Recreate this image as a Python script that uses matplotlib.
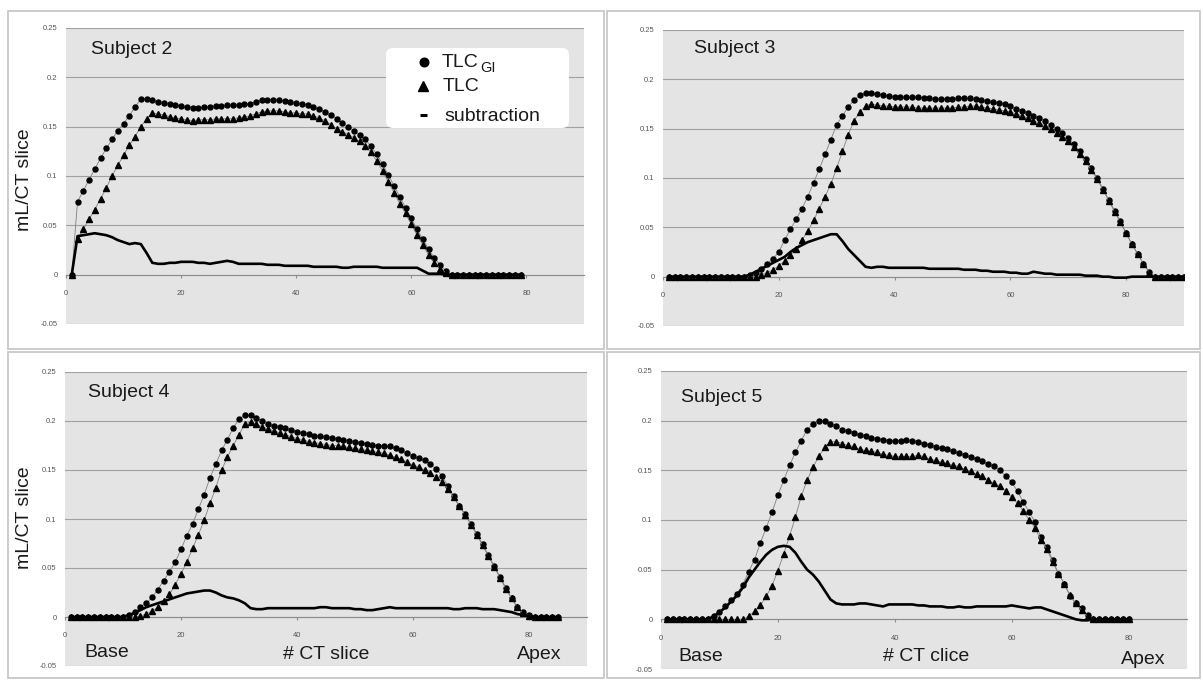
import matplotlib
matplotlib.use("Agg")
import matplotlib.pyplot as plt
from matplotlib.patches import Rectangle, FancyBboxPatch
from matplotlib.lines import Line2D
from matplotlib.transforms import Affine2D
import numpy as np

plt.rcParams['font.family'] = ['Liberation Sans', 'DejaVu Sans']

# mL per CT slice, one value per slice (slice 1..N)
s2_tlc_gi = [0.000, 0.074, 0.085, 0.096, 0.107, 0.118, 0.128, 0.137, 0.146, 0.153,
             0.161, 0.170, 0.178, 0.178, 0.177, 0.175, 0.174, 0.173, 0.172, 0.171,
             0.170, 0.169, 0.169, 0.170, 0.170, 0.171, 0.171, 0.172, 0.172, 0.172,
             0.173, 0.173, 0.175, 0.177, 0.177, 0.177, 0.177, 0.176, 0.175, 0.174,
             0.173, 0.172, 0.170, 0.168, 0.165, 0.162, 0.158, 0.154, 0.150, 0.146,
             0.142, 0.137, 0.130, 0.122, 0.112, 0.101, 0.090, 0.079, 0.068, 0.057,
             0.046, 0.036, 0.026, 0.017, 0.010, 0.004, 0.000, 0.000, 0.000, 0.000,
             0.000, 0.000, 0.000, 0.000, 0.000, 0.000, 0.000, 0.000, 0.000]
s2_tlc = [0.000, 0.036, 0.046, 0.056, 0.066, 0.077, 0.088, 0.100, 0.111, 0.121,
          0.131, 0.140, 0.150, 0.158, 0.164, 0.163, 0.162, 0.160, 0.159, 0.158,
          0.157, 0.156, 0.157, 0.157, 0.157, 0.158, 0.158, 0.158, 0.158, 0.159,
          0.160, 0.161, 0.163, 0.165, 0.166, 0.166, 0.166, 0.165, 0.164, 0.164,
          0.163, 0.163, 0.161, 0.159, 0.156, 0.152, 0.148, 0.145, 0.142, 0.139,
          0.135, 0.130, 0.124, 0.115, 0.105, 0.094, 0.083, 0.072, 0.062, 0.051,
          0.040, 0.030, 0.020, 0.012, 0.006, 0.002, 0.000, 0.000, 0.000, 0.000,
          0.000, 0.000, 0.000, 0.000, 0.000, 0.000, 0.000, 0.000, 0.000]
s2_sub = [0.000, 0.039, 0.040, 0.041, 0.042, 0.041, 0.040, 0.038, 0.035, 0.033,
          0.031, 0.032, 0.031, 0.022, 0.012, 0.011, 0.011, 0.012, 0.012, 0.013,
          0.013, 0.013, 0.012, 0.012, 0.011, 0.012, 0.013, 0.014, 0.013, 0.011,
          0.011, 0.011, 0.011, 0.011, 0.010, 0.010, 0.010, 0.009, 0.009, 0.009,
          0.009, 0.009, 0.008, 0.008, 0.008, 0.008, 0.008, 0.007, 0.007, 0.008,
          0.008, 0.008, 0.008, 0.008, 0.007, 0.007, 0.007, 0.007, 0.007, 0.007,
          0.007, 0.004, 0.001, 0.001, 0.001, 0.000, 0.000, 0.000, 0.000, 0.000,
          0.000, 0.000, 0.000, 0.000, 0.000, 0.000, 0.000, 0.000, 0.000]

s3_tlc_gi = [0.000, 0.000, 0.000, 0.000, 0.000, 0.000, 0.000, 0.000, 0.000, 0.000,
             0.000, 0.000, 0.000, 0.000, 0.002, 0.004, 0.008, 0.013, 0.018, 0.025,
             0.037, 0.048, 0.058, 0.069, 0.081, 0.095, 0.109, 0.124, 0.139, 0.154,
             0.163, 0.172, 0.179, 0.184, 0.186, 0.186, 0.185, 0.184, 0.183, 0.182,
             0.182, 0.182, 0.182, 0.182, 0.181, 0.181, 0.180, 0.180, 0.180, 0.180,
             0.181, 0.181, 0.181, 0.180, 0.179, 0.178, 0.177, 0.176, 0.175, 0.173,
             0.170, 0.168, 0.166, 0.163, 0.161, 0.158, 0.154, 0.150, 0.146, 0.141,
             0.134, 0.127, 0.119, 0.110, 0.100, 0.089, 0.078, 0.067, 0.056, 0.044,
             0.033, 0.023, 0.013, 0.005, 0.000, 0.000, 0.000, 0.000, 0.000, 0.000]
s3_tlc = [0.000, 0.000, 0.000, 0.000, 0.000, 0.000, 0.000, 0.000, 0.000, 0.000,
          0.000, 0.000, 0.000, 0.000, 0.000, 0.000, 0.002, 0.004, 0.007, 0.011,
          0.016, 0.022, 0.028, 0.037, 0.046, 0.057, 0.069, 0.081, 0.094, 0.110,
          0.127, 0.144, 0.158, 0.167, 0.173, 0.175, 0.174, 0.173, 0.173, 0.172,
          0.172, 0.172, 0.172, 0.171, 0.171, 0.171, 0.171, 0.171, 0.171, 0.171,
          0.172, 0.172, 0.173, 0.173, 0.172, 0.171, 0.170, 0.169, 0.168, 0.167,
          0.165, 0.163, 0.161, 0.158, 0.156, 0.153, 0.150, 0.146, 0.142, 0.137,
          0.131, 0.124, 0.117, 0.108, 0.099, 0.088, 0.077, 0.066, 0.055, 0.044,
          0.033, 0.023, 0.013, 0.004, 0.000, 0.000, 0.000, 0.000, 0.000, 0.000]
s3_sub = [0.000, 0.000, 0.000, 0.000, 0.000, 0.000, 0.000, 0.000, 0.000, 0.000,
          0.000, 0.000, 0.000, 0.000, 0.002, 0.005, 0.008, 0.011, 0.014, 0.017,
          0.020, 0.025, 0.029, 0.032, 0.035, 0.037, 0.039, 0.041, 0.043, 0.043,
          0.036, 0.028, 0.022, 0.016, 0.010, 0.009, 0.010, 0.010, 0.009, 0.009,
          0.009, 0.009, 0.009, 0.009, 0.009, 0.008, 0.008, 0.008, 0.008, 0.008,
          0.008, 0.007, 0.007, 0.007, 0.006, 0.006, 0.005, 0.005, 0.005, 0.004,
          0.004, 0.003, 0.003, 0.005, 0.004, 0.003, 0.003, 0.002, 0.002, 0.002,
          0.002, 0.002, 0.001, 0.001, 0.001, 0.000, 0.000, -0.001, -0.001, -0.001,
          0.000, 0.000, 0.000, 0.000, 0.000, 0.000, 0.000, 0.000, 0.000, 0.000]

s4_tlc_gi = [0.000, 0.000, 0.000, 0.000, 0.000, 0.000, 0.000, 0.000, 0.000, 0.000,
             0.002, 0.005, 0.010, 0.014, 0.020, 0.028, 0.037, 0.046, 0.056, 0.069,
             0.083, 0.095, 0.110, 0.125, 0.142, 0.156, 0.170, 0.181, 0.193, 0.202,
             0.206, 0.206, 0.203, 0.200, 0.197, 0.195, 0.194, 0.193, 0.191, 0.189,
             0.188, 0.187, 0.185, 0.185, 0.184, 0.183, 0.182, 0.181, 0.180, 0.179,
             0.178, 0.177, 0.176, 0.175, 0.175, 0.174, 0.172, 0.170, 0.167, 0.164,
             0.162, 0.160, 0.156, 0.151, 0.144, 0.134, 0.123, 0.113, 0.105, 0.095,
             0.085, 0.074, 0.063, 0.052, 0.041, 0.030, 0.019, 0.010, 0.005, 0.002,
             0.000, 0.000, 0.000, 0.000, 0.000]
s4_tlc = [0.000, 0.000, 0.000, 0.000, 0.000, 0.000, 0.000, 0.000, 0.000, 0.000,
          0.000, 0.000, 0.001, 0.003, 0.006, 0.010, 0.016, 0.023, 0.033, 0.044,
          0.056, 0.070, 0.084, 0.099, 0.116, 0.132, 0.150, 0.163, 0.175, 0.186,
          0.197, 0.199, 0.197, 0.194, 0.192, 0.190, 0.188, 0.186, 0.184, 0.182,
          0.181, 0.179, 0.178, 0.177, 0.176, 0.175, 0.175, 0.174, 0.173, 0.172,
          0.171, 0.170, 0.169, 0.168, 0.167, 0.165, 0.163, 0.161, 0.158, 0.155,
          0.153, 0.150, 0.147, 0.143, 0.138, 0.131, 0.122, 0.113, 0.104, 0.094,
          0.084, 0.073, 0.062, 0.051, 0.040, 0.029, 0.019, 0.010, 0.004, 0.001,
          0.000, 0.000, 0.000, 0.000, 0.000]
s4_sub = [0.000, 0.000, 0.000, 0.000, 0.000, 0.000, 0.000, 0.000, 0.000, 0.000,
          0.002, 0.004, 0.007, 0.010, 0.012, 0.014, 0.016, 0.018, 0.020, 0.022,
          0.024, 0.025, 0.026, 0.027, 0.027, 0.025, 0.022, 0.020, 0.019, 0.017,
          0.014, 0.009, 0.008, 0.008, 0.009, 0.009, 0.009, 0.009, 0.009, 0.009,
          0.009, 0.009, 0.009, 0.010, 0.010, 0.009, 0.009, 0.009, 0.009, 0.008,
          0.008, 0.007, 0.007, 0.008, 0.009, 0.010, 0.009, 0.009, 0.009, 0.009,
          0.009, 0.009, 0.009, 0.009, 0.009, 0.009, 0.008, 0.008, 0.009, 0.009,
          0.009, 0.008, 0.008, 0.008, 0.007, 0.006, 0.005, 0.003, 0.002, 0.001,
          0.000, 0.000, 0.000, 0.000, 0.000]

s5_tlc_gi = [0.000, 0.000, 0.000, 0.000, 0.000, 0.000, 0.000, 0.000, 0.003, 0.007,
             0.013, 0.019, 0.026, 0.035, 0.048, 0.060, 0.077, 0.092, 0.108, 0.125,
             0.140, 0.155, 0.168, 0.180, 0.191, 0.197, 0.200, 0.200, 0.197, 0.195,
             0.191, 0.190, 0.188, 0.186, 0.185, 0.183, 0.182, 0.181, 0.180, 0.180,
             0.180, 0.181, 0.180, 0.179, 0.177, 0.175, 0.173, 0.172, 0.171, 0.169,
             0.167, 0.165, 0.163, 0.161, 0.159, 0.156, 0.154, 0.150, 0.144, 0.138,
             0.129, 0.118, 0.108, 0.098, 0.083, 0.073, 0.060, 0.046, 0.036, 0.023,
             0.016, 0.011, 0.004, 0.000, 0.000, 0.000, 0.000, 0.000, 0.000, 0.000]
s5_tlc = [0.000, 0.000, 0.000, 0.000, 0.000, 0.000, 0.000, 0.000, 0.000, 0.000,
          0.000, 0.000, 0.000, 0.000, 0.003, 0.008, 0.014, 0.023, 0.034, 0.049,
          0.066, 0.084, 0.103, 0.124, 0.140, 0.153, 0.164, 0.173, 0.179, 0.179,
          0.177, 0.175, 0.174, 0.171, 0.170, 0.169, 0.168, 0.166, 0.165, 0.164,
          0.164, 0.164, 0.164, 0.165, 0.164, 0.161, 0.160, 0.158, 0.157, 0.155,
          0.154, 0.151, 0.149, 0.146, 0.144, 0.140, 0.137, 0.134, 0.129, 0.123,
          0.117, 0.109, 0.100, 0.092, 0.080, 0.071, 0.058, 0.046, 0.036, 0.024,
          0.016, 0.009, 0.003, 0.000, 0.000, 0.000, 0.000, 0.000, 0.000, 0.000]
s5_sub = [0.000, 0.000, 0.000, 0.000, 0.000, 0.000, 0.000, 0.000, 0.003, 0.007,
          0.012, 0.018, 0.024, 0.032, 0.042, 0.050, 0.058, 0.065, 0.070, 0.073,
          0.074, 0.073, 0.067, 0.058, 0.050, 0.045, 0.038, 0.029, 0.020, 0.016,
          0.015, 0.015, 0.015, 0.016, 0.016, 0.015, 0.014, 0.013, 0.015, 0.015,
          0.015, 0.015, 0.015, 0.014, 0.014, 0.013, 0.013, 0.013, 0.012, 0.012,
          0.013, 0.012, 0.012, 0.013, 0.013, 0.013, 0.013, 0.013, 0.013, 0.014,
          0.013, 0.012, 0.011, 0.012, 0.012, 0.010, 0.008, 0.006, 0.004, 0.002,
          0.000, -0.001, -0.001, 0.000, 0.000, 0.000, 0.000, 0.000, 0.000, 0.000]

subjects = ["Subject 2", "Subject 3", "Subject 4", "Subject 5"]
y_ticks = [-0.05, 0, 0.05, 0.1, 0.15, 0.2, 0.25]
y_tick_labels = ["-0.05", "0", "0.05", "0.1", "0.15", "0.2", "0.25"]
x_ticks = [0, 20, 40, 60, 80]
x_tick_labels = ["0", "20", "40", "60", "80"]
legend_labels = ["TLC", "TLC", "subtraction"]

W, H = 1203, 680
fig = plt.figure(figsize=(W / 100, H / 100), dpi=100)
fig.patch.set_facecolor('white')
# pixel coords measured from the top-left corner of the image
PX = Affine2D().scale(0.01, -0.01).translate(0, H / 100) + fig.dpi_scale_trans

TXT = '#1a1a1a'

# (data, plot-area box l,t,r,b, panel border box, subject label position)
panels = [
    ((s2_tlc_gi, s2_tlc, s2_sub), (66, 28, 584, 324), (8, 11, 604, 349), (91, 54)),
    ((s3_tlc_gi, s3_tlc, s3_sub), (663, 30, 1184, 326), (607, 11, 1200, 349), (694, 53)),
    ((s4_tlc_gi, s4_tlc, s4_sub), (65, 372, 587, 666), (8, 352, 604, 678), (88, 397)),
    ((s5_tlc_gi, s5_tlc, s5_sub), (661, 371, 1187, 669), (607, 352, 1200, 678), (681, 402)),
]

for i, (series, box, border, lab) in enumerate(panels):
    # light grey frame around each chart
    fig.add_artist(Rectangle((border[0], border[1]), border[2] - border[0], border[3] - border[1],
                             transform=PX, fill=False, edgecolor='#c8c8c8', linewidth=1.3))
    l, t, r, b = box
    ax = fig.add_axes([l / W, 1 - b / H, (r - l) / W, (b - t) / H])
    ax.set_facecolor('#e4e4e4')
    ax.set_xlim(0, 90)
    ax.set_ylim(-0.05, 0.25)
    for s in ['top', 'right', 'left']:
        ax.spines[s].set_visible(False)
    ax.spines['bottom'].set_position(('data', 0))
    ax.spines['bottom'].set_color('#8c8c8c')
    ax.spines['bottom'].set_linewidth(0.8)
    ax.set_yticks(y_ticks, y_tick_labels)
    ax.set_xticks(x_ticks, x_tick_labels)
    ax.tick_params(axis='y', length=0, pad=6, labelsize=5.5, labelcolor='#555555')
    ax.tick_params(axis='x', length=2, pad=9, labelsize=5.5, labelcolor='#555555', color='#8c8c8c')
    ax.grid(axis='y', color='#a0a0a0', linewidth=0.8)
    ax.set_axisbelow(True)

    gi, tlc, sub = series
    x = np.arange(1, len(gi) + 1)
    ax.plot(x, gi, color='#808080', lw=0.6, marker='o', ms=3.6, mfc='black', mec='black', zorder=3)
    ax.plot(x, tlc, color='#808080', lw=0.6, marker='^', ms=3.7, mfc='black', mec='black', zorder=3)
    ax.plot(x, sub, color='black', lw=1.9, zorder=4)

    fig.text(lab[0], lab[1], subjects[i], transform=PX, fontsize=14, color=TXT,
             ha='left', va='baseline')

# y axis titles (left column only)
for yc in (180, 518):
    fig.text(25, yc, "mL/CT slice", transform=PX, fontsize=14, color=TXT,
             rotation=90, ha='center', va='center')

# texts under the bottom charts
fig.text(84, 657, "Base", transform=PX, fontsize=14, color=TXT, va='baseline')
fig.text(283, 659, "# CT slice", transform=PX, fontsize=14, color=TXT, va='baseline')
fig.text(517, 659, "Apex", transform=PX, fontsize=14, color=TXT, va='baseline')
fig.text(678, 661, "Base", transform=PX, fontsize=14, color=TXT, va='baseline')
fig.text(883, 661, "# CT clice", transform=PX, fontsize=14, color=TXT, va='baseline')
fig.text(1121, 664, "Apex", transform=PX, fontsize=14, color=TXT, va='baseline')

# legend box in the first chart
fig.add_artist(FancyBboxPatch((386, 48), 183, 80, boxstyle="round,pad=0,rounding_size=7",
                              transform=PX, facecolor='white', edgecolor='none', zorder=5))
fig.add_artist(Line2D([424], [62], transform=PX, marker='o', ms=6.2, color='black',
                      linestyle='none', zorder=6))
fig.add_artist(Line2D([423], [86], transform=PX, marker='^', ms=7.5, color='black',
                      linestyle='none', zorder=6))
fig.add_artist(Line2D([420, 427], [115, 115], transform=PX, lw=2.2, color='black',
                      solid_capstyle='butt', zorder=6))
fig.text(442, 67, legend_labels[0], transform=PX, fontsize=14, color=TXT, va='baseline', zorder=6)
fig.text(480, 72, "GI", transform=PX, fontsize=10.5, color=TXT, va='baseline', zorder=6)
fig.text(443, 91, legend_labels[1], transform=PX, fontsize=14, color=TXT, va='baseline', zorder=6)
fig.text(444, 121, legend_labels[2], transform=PX, fontsize=14, color=TXT, va='baseline', zorder=6)

fig.savefig("out.png", dpi=100, facecolor='white')
